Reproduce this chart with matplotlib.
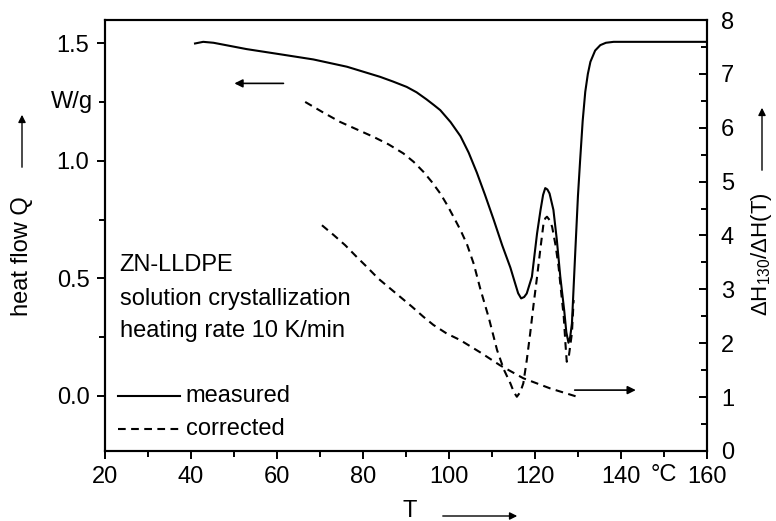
import matplotlib.pyplot as plt
from matplotlib.patches import FancyArrowPatch
from matplotlib.ticker import MultipleLocator

plt.rcParams['font.family'] = ['Liberation Sans', 'DejaVu Sans']
plt.rcParams['mathtext.fontset'] = 'custom'
plt.rcParams['mathtext.rm'] = 'Liberation Sans'
plt.rcParams['mathtext.it'] = 'Liberation Sans:italic'

# measured heat flow (left axis, W/g)
T_meas = [41.0, 42.9, 45.3, 53.0, 60.8, 68.5, 76.3, 84.0, 87.0, 90.2, 92.5, 94.8,
          96.5, 98.0, 100.4, 102.7, 104.6, 106.5, 108.4, 110.4, 112.4, 114.3, 115.4,
          116.1, 116.8, 117.5, 118.1, 119.3, 120.5, 121.3, 121.9, 122.4, 122.9, 123.4,
          124.3, 125.1, 125.9, 126.8, 127.3, 127.8, 128.2, 128.6, 129.4, 130.0, 130.5,
          131.1, 131.7, 132.3, 132.9, 134.0, 135.2, 136.5, 138.3, 160.0]
Q_meas = [1.500, 1.507, 1.503, 1.476, 1.454, 1.432, 1.401, 1.358, 1.338, 1.315, 1.292, 1.262,
          1.238, 1.216, 1.165, 1.105, 1.035, 0.950, 0.855, 0.750, 0.640, 0.545, 0.478,
          0.436, 0.414, 0.420, 0.435, 0.506, 0.691, 0.790, 0.855, 0.884, 0.878, 0.861,
          0.791, 0.662, 0.506, 0.364, 0.270, 0.225, 0.250, 0.307, 0.620, 0.850, 1.000,
          1.170, 1.294, 1.370, 1.422, 1.470, 1.493, 1.503, 1.507, 1.507]

# corrected heat flow (left axis)
T_corr = [66.6, 70.6, 74.7, 78.6, 82.5, 86.0, 89.4, 91.8, 94.1, 96.0, 98.0, 99.6,
          101.1, 102.7, 104.2, 105.8, 107.3, 109.3, 111.2, 112.8, 114.3, 115.1, 115.8,
          116.6, 117.3, 118.1, 118.9, 119.7, 120.5, 121.3, 122.0, 122.4, 122.8, 123.4,
          124.0, 124.8, 125.5, 126.1, 126.7, 127.1, 127.4, 127.9, 128.6, 129.0]
Q_corr = [1.251, 1.208, 1.166, 1.134, 1.102, 1.070, 1.032, 0.996, 0.953, 0.911, 0.861, 0.812,
          0.761, 0.705, 0.645, 0.560, 0.455, 0.330, 0.194, 0.110, 0.052, 0.015, -0.005,
          0.015, 0.052, 0.150, 0.265, 0.390, 0.506, 0.630, 0.733, 0.755, 0.762, 0.748,
          0.719, 0.640, 0.549, 0.440, 0.336, 0.220, 0.144, 0.170, 0.266, 0.407]

# enthalpy ratio (right axis)
T_ratio = [70.5, 73.2, 75.9, 78.6, 80.9, 83.6, 86.3, 88.7, 91.4, 94.1, 96.4, 99.5,
           102.6, 107.3, 111.9, 117.3, 123.6, 130.5]
R_ratio = [4.19, 4.01, 3.82, 3.60, 3.42, 3.20, 3.02, 2.86, 2.68, 2.49, 2.34, 2.18,
           2.06, 1.83, 1.59, 1.35, 1.16, 0.99]

fs = 17
fig = plt.figure(figsize=(7.76, 5.21), dpi=100)
ax = fig.add_axes([0.1349, 0.1344, 0.9111 - 0.1349, 0.9616 - 0.1344])
ax2 = ax.twinx()

dash = (0, (3.7, 2.6))
ax.plot(T_meas, Q_meas, color='black', lw=1.5)
ax.plot(T_corr, Q_corr, color='black', lw=1.5, linestyle=dash)
ax2.plot(T_ratio, R_ratio, color='black', lw=1.5, linestyle=dash)

ax.set_xlim(20, 160)
ax.set_ylim(-0.236, 1.6)
ax2.set_ylim(0, 8)

ax.set_xticks([20, 40, 60, 80, 100, 120, 140, 160])
ax.xaxis.set_minor_locator(MultipleLocator(10))
ax.set_yticks([0.0, 0.5, 1.0, 1.5])
ax.set_yticklabels(['0.0', '0.5', '1.0', '1.5'])
ax.yaxis.set_minor_locator(MultipleLocator(0.25))
ax2.yaxis.set_major_locator(MultipleLocator(1))
ax2.yaxis.set_minor_locator(MultipleLocator(0.5))

ax.tick_params(which='both', direction='out', width=1.4, labelsize=fs, pad=5)
ax.tick_params(which='major', length=6)
ax.tick_params(which='minor', length=4)
ax.tick_params(axis='x', which='both', top=False)
ax2.tick_params(which='both', direction='in', width=1.4, labelsize=fs, pad=10)
ax2.tick_params(which='major', length=6)
ax2.tick_params(which='minor', length=4)
for a in (ax, ax2):
    for s in a.spines.values():
        s.set_linewidth(1.5)

# extra axis text
ax.text(-0.02, 1.25, 'W/g', transform=ax.get_yaxis_transform(),
        ha='right', va='center', fontsize=fs)
ax.text(150, -0.03, '°C', transform=ax.get_xaxis_transform(),
        ha='center', va='top', fontsize=fs)

# sample info and legend text
ax.text(23.5, 0.555, 'ZN-LLDPE', fontsize=fs, va='center')
ax.text(23.5, 0.41, 'solution crystallization', fontsize=fs, va='center')
ax.text(23.5, 0.275, 'heating rate 10 K/min', fontsize=fs, va='center')
ax.plot([23.2, 37.4], [0.0, 0.0], color='black', lw=1.5)
ax.plot([23.2, 37.4], [-0.142, -0.142], color='black', lw=1.5, linestyle=dash)
ax.text(38.8, 0.0, 'measured', fontsize=fs, va='center')
ax.text(38.8, -0.142, 'corrected', fontsize=fs, va='center')

# curve-to-axis arrows
ax.annotate('', xy=(49.5, 1.33), xytext=(62.2, 1.33),
            arrowprops=dict(arrowstyle='-|>', color='black', lw=1.2, mutation_scale=12))
ax2.annotate('', xy=(144.1, 1.13), xytext=(128.6, 1.13),
             arrowprops=dict(arrowstyle='-|>', color='black', lw=1.2, mutation_scale=12))

# axis labels with arrows
fig.text(410 / 776, 1 - 511 / 521, 'T', fontsize=fs, ha='center', va='center')
fig.text(22 / 776, 1 - 256 / 521, 'heat flow Q', fontsize=fs, rotation=90,
         ha='center', va='center')
fig.text(762 / 776, 1 - 254 / 521, r'ΔH$_{130}$/ΔH(T)', fontsize=16, rotation=90,
         ha='center', va='center')
ap = dict(arrowstyle='-|>', color='black', lw=1.0, mutation_scale=11)
fig.add_artist(FancyArrowPatch((440 / 776, 1 - 516 / 521), (520 / 776, 1 - 516 / 521),
                               transform=fig.transFigure, **ap))
fig.add_artist(FancyArrowPatch((22 / 776, 1 - 170 / 521), (22 / 776, 1 - 112 / 521),
                               transform=fig.transFigure, **ap))
fig.add_artist(FancyArrowPatch((762 / 776, 1 - 173 / 521), (762 / 776, 1 - 105 / 521),
                               transform=fig.transFigure, **ap))

fig.savefig('out.png', dpi=100)
